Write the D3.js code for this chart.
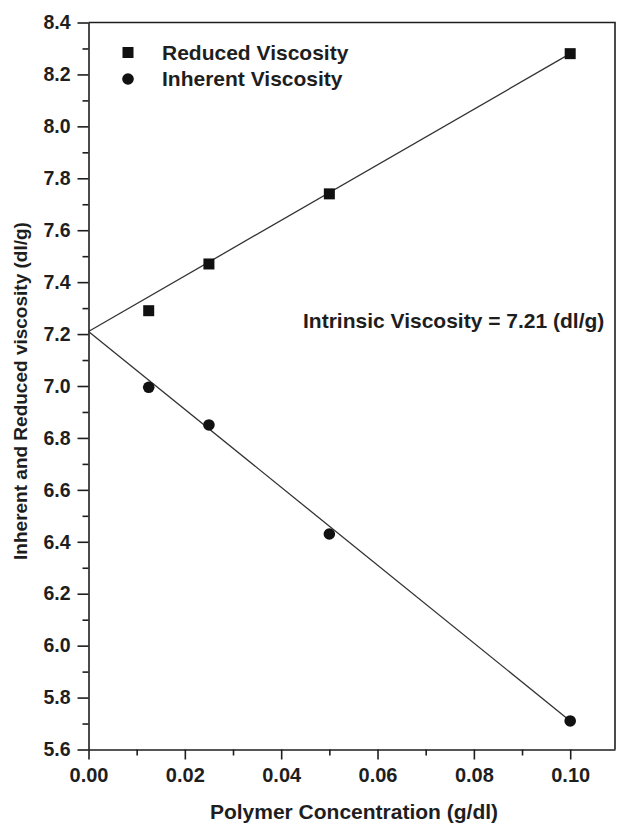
<!DOCTYPE html>
<html>
<head>
<meta charset="utf-8">
<script src="https://cdn.jsdelivr.net/npm/d3@7"></script>
<style>
  html, body { margin: 0; padding: 0; background: #fff; }
  svg { display: block; }
  text { font-family: "Liberation Sans", Arial, sans-serif; font-weight: bold; fill: #1e1e1e; }
</style>
</head>
<body>
<script>
// Polymer concentration (g/dl)
const concentration = [0.0125, 0.025, 0.05, 0.1];
// Viscosity series (dl/g)
const reducedViscosity = [7.29, 7.47, 7.74, 8.28];
const inherentViscosity = [6.995, 6.85, 6.43, 5.71];
// Extrapolated straight lines meeting at the intrinsic viscosity
const fitConcentration = [0, 0.1];
const reducedFit = [7.21, 8.28];
const inherentFit = [7.21, 5.71];
const intrinsicViscosity = 7.21;
// Axis ticks
const xTicks = [0, 0.02, 0.04, 0.06, 0.08, 0.10];
const xMinorTicks = [0.01, 0.03, 0.05, 0.07, 0.09];
const yTicks = [5.6, 5.8, 6.0, 6.2, 6.4, 6.6, 6.8, 7.0, 7.2, 7.4, 7.6, 7.8, 8.0, 8.2, 8.4];
const yMinorTicks = [5.7, 5.9, 6.1, 6.3, 6.5, 6.7, 6.9, 7.1, 7.3, 7.5, 7.7, 7.9, 8.1, 8.3];
const legendLabels = ["Reduced Viscosity", "Inherent Viscosity"];

const W = 618, H = 823;
const margin = { left: 88.5, top: 22.5, right: 3, bottom: 73.5 };
const pw = W - margin.left - margin.right;
const ph = H - margin.top - margin.bottom;

const svg = d3.select("body").append("svg").attr("width", W).attr("height", H);
const g = svg.append("g").attr("transform", `translate(${margin.left},${margin.top})`);

const x = d3.scaleLinear().domain([0, 0.1093]).range([0, pw]);
const y = d3.scaleLinear().domain([5.6, 8.4]).range([ph, 0]);

// Frame (top and right edges)
g.append("path")
  .attr("d", `M0,0H${pw}V${ph}`)
  .attr("fill", "none").attr("stroke", "#1e1e1e").attr("stroke-width", 1.6);

// Minor ticks
g.append("g").attr("transform", `translate(0,${ph})`)
  .call(d3.axisBottom(x).tickValues(xMinorTicks).tickSize(6).tickFormat(""))
  .call(a => a.select(".domain").remove());
g.append("g")
  .call(d3.axisLeft(y).tickValues(yMinorTicks).tickSize(6).tickFormat(""))
  .call(a => a.select(".domain").remove());

// Major axes
const xAxis = g.append("g").attr("transform", `translate(0,${ph})`)
  .call(d3.axisBottom(x).tickValues(xTicks).tickSize(10).tickPadding(8).tickSizeOuter(0)
    .tickFormat(d3.format(".2f")));
xAxis.selectAll("text").style("font-size", "20px");

const yAxis = g.append("g")
  .call(d3.axisLeft(y).tickValues(yTicks).tickSize(11).tickPadding(7).tickSizeOuter(0)
    .tickFormat(d3.format(".1f")));
yAxis.selectAll("text").style("font-size", "19.5px");

g.selectAll(".tick line").attr("stroke", "#1e1e1e").attr("stroke-width", 1.6);
g.selectAll(".domain").attr("stroke", "#1e1e1e").attr("stroke-width", 1.6);
g.selectAll(".tick text").attr("fill", "#1e1e1e");

// Fitted lines
const line = d3.line().x(d => x(d[0])).y(d => y(d[1]));
[reducedFit, inherentFit].forEach(vals => {
  g.append("path")
    .datum(fitConcentration.map((c, i) => [c, vals[i]]))
    .attr("d", line)
    .attr("fill", "none").attr("stroke", "#333").attr("stroke-width", 1.3);
});

// Data markers
const sq = 11;
g.selectAll("rect.reduced").data(concentration.map((c, i) => [c, reducedViscosity[i]]))
  .join("rect").attr("class", "reduced")
  .attr("x", d => x(d[0]) - sq / 2).attr("y", d => y(d[1]) - sq / 2)
  .attr("width", sq).attr("height", sq).attr("fill", "#111");
g.selectAll("circle.inherent").data(concentration.map((c, i) => [c, inherentViscosity[i]]))
  .join("circle").attr("class", "inherent")
  .attr("cx", d => x(d[0])).attr("cy", d => y(d[1]))
  .attr("r", 5.8).attr("fill", "#111");

// Legend
const legend = svg.append("g");
legend.append("rect").attr("x", 122.5).attr("y", 47).attr("width", sq).attr("height", sq).attr("fill", "#111");
legend.append("circle").attr("cx", 128).attr("cy", 79).attr("r", 5.8).attr("fill", "#111");
legend.append("text").attr("x", 162).attr("y", 59.5).style("font-size", "21px").text(legendLabels[0]);
legend.append("text").attr("x", 162).attr("y", 85.5).style("font-size", "21px").text(legendLabels[1]);

// Intrinsic viscosity note
svg.append("text").attr("x", 303).attr("y", 328).style("font-size", "21px")
  .text(`Intrinsic Viscosity = ${intrinsicViscosity.toFixed(2)} (dl/g)`);

// Axis titles
svg.append("text").attr("x", 354).attr("y", 819).attr("text-anchor", "middle")
  .style("font-size", "21px").text("Polymer Concentration (g/dl)");
svg.append("text").attr("transform", "translate(27,391) rotate(-90)").attr("text-anchor", "middle")
  .style("font-size", "19px").text("Inherent and Reduced viscosity (dl/g)");
</script>
</body>
</html>
